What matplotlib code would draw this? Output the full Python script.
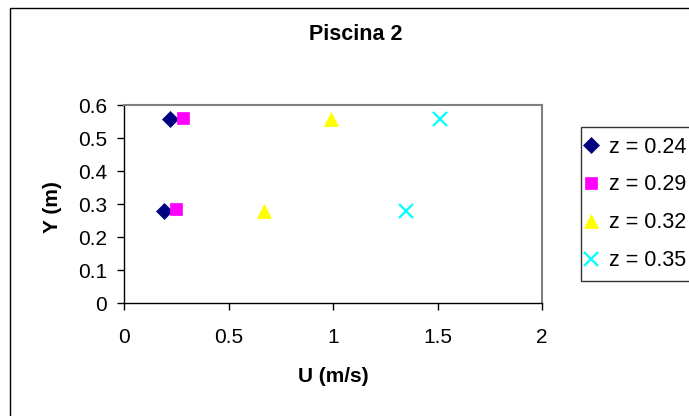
import matplotlib
matplotlib.use("Agg")
import matplotlib.pyplot as plt
from matplotlib.patches import Rectangle

plt.rcParams["font.family"] = ["Liberation Sans", "DejaVu Sans"]

########## DATA ########
labels = ["z = 0.24", "z = 0.29", "z = 0.32", "z = 0.35"]
u_vals = [
    [0.19, 0.22],
    [0.25, 0.28],
    [0.67, 0.99],
    [1.35, 1.51],
]
y_vals = [
    [0.28, 0.56],
    [0.285, 0.562],
    [0.28, 0.56],
    [0.28, 0.56],
]
########################

colors = ["#000080", "#FF00FF", "#FFFF00", "#00FFFF"]
markers = ["D", "s", "^", "x"]
sizes = [8, 8.5, 10, 10]

fig = plt.figure(figsize=(6.89, 4.16), dpi=100)
ax = fig.add_axes([124 / 689, 1 - 303.3 / 416, 418 / 689, 198 / 416])

# outer chart border (cut at the right edge like the reference)
fig.patches.append(
    Rectangle((9.5 / 689, -0.1), 1.2, (416 - 8) / 416 + 0.1,
              transform=fig.transFigure, fill=False, edgecolor="black",
              linewidth=1.0)
)

for i in range(len(labels)):
    ax.plot(u_vals[i], y_vals[i], linestyle="none", marker=markers[i],
            color=colors[i], markersize=sizes[i],
            markeredgewidth=1.6 if markers[i] == "x" else 0.5,
            label=labels[i], clip_on=False)

ax.set_xlim(0, 2)
ax.set_ylim(0, 0.6)
ax.set_xticks([0, 0.5, 1, 1.5, 2])
ax.set_xticklabels(["0", "0.5", "1", "1.5", "2"])
ax.set_yticks([0, 0.1, 0.2, 0.3, 0.4, 0.5, 0.6])
ax.set_yticklabels(["0", "0.1", "0.2", "0.3", "0.4", "0.5", "0.6"])
ax.tick_params(direction="out", length=5, width=1, labelsize=15)
ax.tick_params(axis="x", pad=13)
ax.tick_params(axis="y", pad=7)

for side in ["top", "right"]:
    ax.spines[side].set_color("#808080")
    ax.spines[side].set_linewidth(1.5)
for side in ["left", "bottom"]:
    ax.spines[side].set_color("black")
    ax.spines[side].set_linewidth(1.0)

ax.set_xlabel("U (m/s)", fontsize=15, fontweight="bold", va="center")
ax.xaxis.set_label_coords(0.5, (303.3 - 376) / 198)
ax.set_ylabel("Y (m)", fontsize=15, fontweight="bold", va="center")
ax.yaxis.set_label_coords((53 - 124) / 418, (303.3 - 207) / 198)
fig.text(356 / 689, 1 - 35 / 416, "Piscina 2",
         fontsize=15.5, fontweight="bold", ha="center", va="center")

leg = ax.legend(loc="upper left", bbox_to_anchor=(581 / 689, 1 - 127 / 416),
                bbox_transform=fig.transFigure, frameon=True, fancybox=False,
                fontsize=15.5, handlelength=0, handletextpad=0.84,
                labelspacing=0.78, borderpad=0.45, borderaxespad=0)
leg.get_frame().set_edgecolor("black")
leg.get_frame().set_linewidth(1.0)

plt.savefig("out.png", dpi=100)
